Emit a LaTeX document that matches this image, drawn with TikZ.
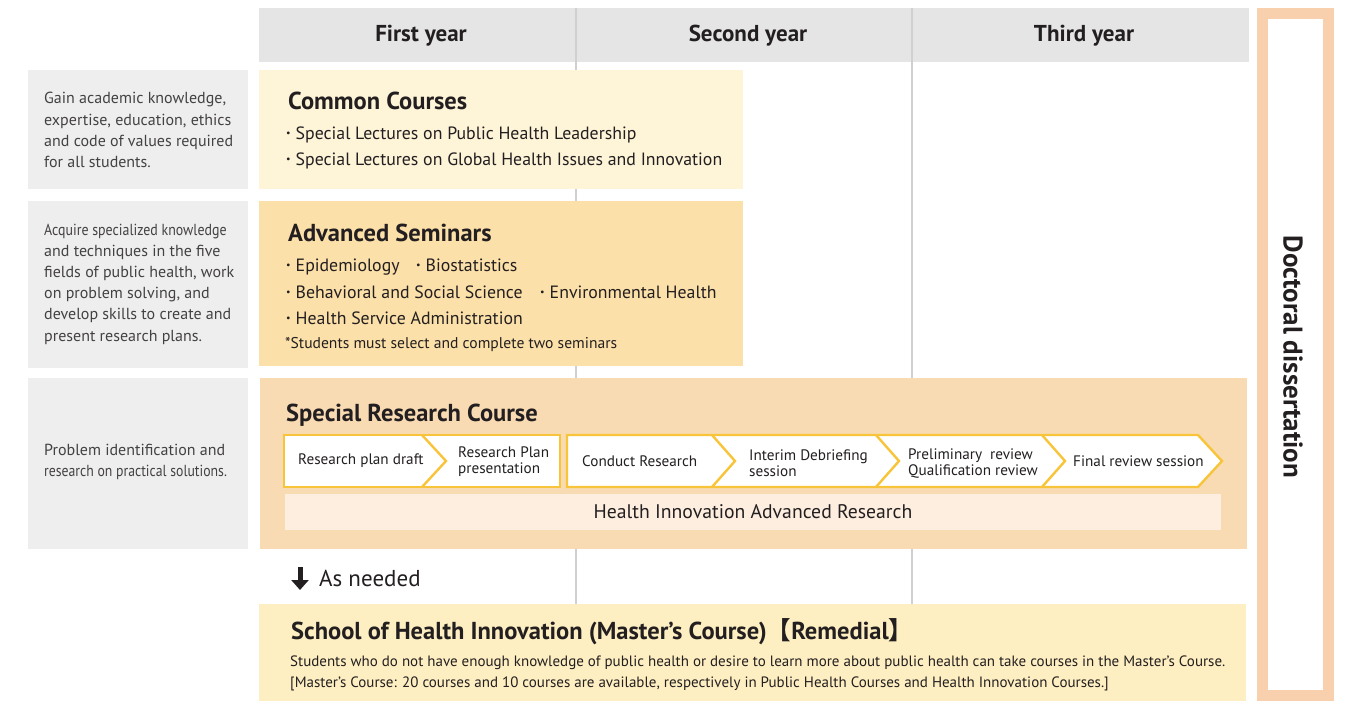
\documentclass[tikz,border=0pt]{standalone}
\usepackage{fontspec}
\setmainfont{PT Sans}
\newfontfamily\cjk{Noto Sans CJK KR}
\usetikzlibrary{arrows.meta,positioning}

\definecolor{ink}{HTML}{231F20}
\definecolor{hdgray}{HTML}{E5E5E5}
\definecolor{sidegray}{HTML}{EEEEEE}
\definecolor{gridln}{HTML}{D0D0D0}
\definecolor{commonbg}{HTML}{FEF4D8}
\definecolor{seminarbg}{HTML}{FCE0A9}
\definecolor{researchbg}{HTML}{F9DBB3}
\definecolor{barbg}{HTML}{FDEEDF}
\definecolor{remedialbg}{HTML}{FEEFC2}
\definecolor{chevyellow}{HTML}{F8C43A}
\definecolor{framepeach}{HTML}{F8D0AE}

\newcommand{\itm}{\raisebox{2.5pt}{\fontsize{10}{10}\selectfont\textbullet}\hspace{5pt}}
\newcommand{\narrow}[2][0.87]{\scalebox{#1}[1]{#2}}

\begin{document}
\begin{tikzpicture}[
    x=1pt, y=-1pt,
    font=\fontsize{15}{18}\selectfont, text=ink,
    panel/.style={anchor=north west, inner sep=0pt, outer sep=0pt},
    yearlbl/.style={anchor=base, inner sep=0pt, font=\bfseries\fontsize{23}{26}\selectfont},
    sidetxt/.style={anchor=west, align=left, inner sep=0pt,
      font=\fontsize{16}{21.2}\selectfont, text=ink!85},
    ttl/.style={anchor=base west, inner sep=0pt, font=\bfseries\fontsize{24.5}{28}\selectfont},
    itemtxt/.style={anchor=base west, inner sep=0pt, font=\fontsize{17.8}{20}\selectfont},
    steptxt/.style={anchor=west, align=left, inner sep=0pt,
      font=\fontsize{15.2}{16}\selectfont},
    remtxt/.style={anchor=base west, inner sep=0pt, font=\fontsize{15}{18}\selectfont},
    chev/.style={draw=chevyellow, line width=2.4pt, fill=white, line join=miter},
    gridline/.style={draw=gridln, line width=1.2pt}
  ]
    \useasboundingbox (0,0) rectangle (1348,702);

    % year header and column lines
    \node[panel, fill=hdgray, minimum width=990pt, minimum height=54pt] (head) at (259,8) {};
    \draw[gridline] (576,8) -- (576,604);
    \draw[gridline] (912,8) -- (912,604);
    \node[yearlbl] (yr1) at (421,41) {First year};
    \node[yearlbl] (yr2) at (748,41) {Second year};
    \node[yearlbl] (yr3) at (1084,41) {Third year};

    % left descriptions
    \node[panel, fill=sidegray, minimum width=220pt, minimum height=119pt] (side1) at (28,70) {};
    \node[panel, fill=sidegray, minimum width=220pt, minimum height=167pt] (side2) at (28,201) {};
    \node[panel, fill=sidegray, minimum width=220pt, minimum height=171pt] (side3) at (28,378) {};
    \node[sidetxt] (desc1) at (44,130) {Gain academic knowledge,\\ expertise, education, ethics\\ and code of values required\\ for all students.};
    \node[sidetxt] (desc2) at (44,284) {\narrow{Acquire specialized knowledge}\\ and techniques in the five\\ fields of public health, work\\ on problem solving, and\\ develop skills to create and\\ present research plans.};
    \node[sidetxt] (desc3) at (44,462) {Problem identification and\\ \narrow[0.86]{research on practical solutions.}};

    % common courses
    \node[panel, fill=commonbg, minimum width=484pt, minimum height=119pt] (common) at (259,70) {};
    \node[ttl] (cctitle) at (288,109) {Common Courses};
    \node[itemtxt] (cc1) at (286,139) {\itm Special Lectures on Public Health Leadership};
    \node[itemtxt] (cc2) at (286,165) {\itm Special Lectures on Global Health Issues and Innovation};

    % advanced seminars
    \node[panel, fill=seminarbg, minimum width=484pt, minimum height=165pt] (seminar) at (259,201) {};
    \node[ttl] (astitle) at (288,241) {Advanced Seminars};
    \node[itemtxt] (as1) at (286,271) {\itm Epidemiology};
    \node[itemtxt] (as2) at (416,271) {\itm Biostatistics};
    \node[itemtxt] (as3) at (286,298) {\itm Behavioral and Social Science};
    \node[itemtxt] (as4) at (540,298) {\itm Environmental Health};
    \node[itemtxt] (as5) at (286,324) {\itm Health Service Administration};
    \node[anchor=base west, inner sep=0pt, font=\fontsize{15.6}{18}\selectfont] (asnote) at (285,348) {*Students must select and complete two seminars};

    % special research course
    \node[panel, fill=researchbg, minimum width=987pt, minimum height=171pt] (research) at (260,378) {};
    \node[ttl] (srtitle) at (286,421) {Special Research Course};

    \draw[chev] (284,435) -- (560,435) -- (560,487) -- (284,487) -- cycle;
    \draw[chev] (422,435) -- ++(24,26) -- ++(-24,26);
    \draw[chev] (567,435) -- (1198,435) -- (1222,461) -- (1198,487) -- (567,487) -- cycle;
    \foreach \x in {712,876,1042}
      \draw[chev] (\x,435) -- ++(23,26) -- ++(-23,26);

    \node[steptxt] (st1) at (298,461) {Research plan draft};
    \node[steptxt] (st2) at (458,462) {Research Plan\\ presentation};
    \node[steptxt] (st3) at (582,461) {Conduct Research};
    \node[steptxt] (st4) at (749,463) {Interim Debriefing\\ session};
    \node[steptxt] (st5) at (908,463) {Preliminary~ review\\ Qualification review};
    \node[steptxt] (st6) at (1073,461) {Final review session};

    \node[panel, fill=barbg, minimum width=936pt, minimum height=36pt,
      font=\fontsize{19.7}{22}\selectfont] (hiar) at (285,494) {Health Innovation Advanced Research};

    % remedial option
    \coordinate (arrtop) at (300,567);
    \coordinate (arrbot) at (300,590);
    \draw[-{Triangle[width=17pt,length=10pt]}, line width=5pt, draw=ink] (arrtop) -- (arrbot);
    \node[anchor=base west, inner sep=0pt, font=\fontsize{23}{26}\selectfont] (asneed) at (319,586) {As needed};

    \node[panel, fill=remedialbg, minimum width=987pt, minimum height=97pt] (remedial) at (259,604) {};
    \node[ttl] (remtitle) at (291,639) {School of Health Innovation (Master’s Course){\cjk\bfseries【}Remedial{\cjk\bfseries】}};
    \node[remtxt] (rem1) at (290,666) {Students who do not have enough knowledge of public health or desire to learn more about public health can take courses in the Master’s Course.};
    \node[remtxt] (rem2) at (290,687) {[Master’s Course: 20 courses and 10 courses are available, respectively in Public Health Courses and Health Innovation Courses.]};

    % dissertation frame
    \draw[draw=framepeach, line width=11pt] (1262.5,13.5) rectangle (1328.5,695.5);
    \node[rotate=-90, font=\bfseries\fontsize{27}{30}\selectfont] (thesis) at (1293,357) {Doctoral dissertation};
\end{tikzpicture}
\end{document}
